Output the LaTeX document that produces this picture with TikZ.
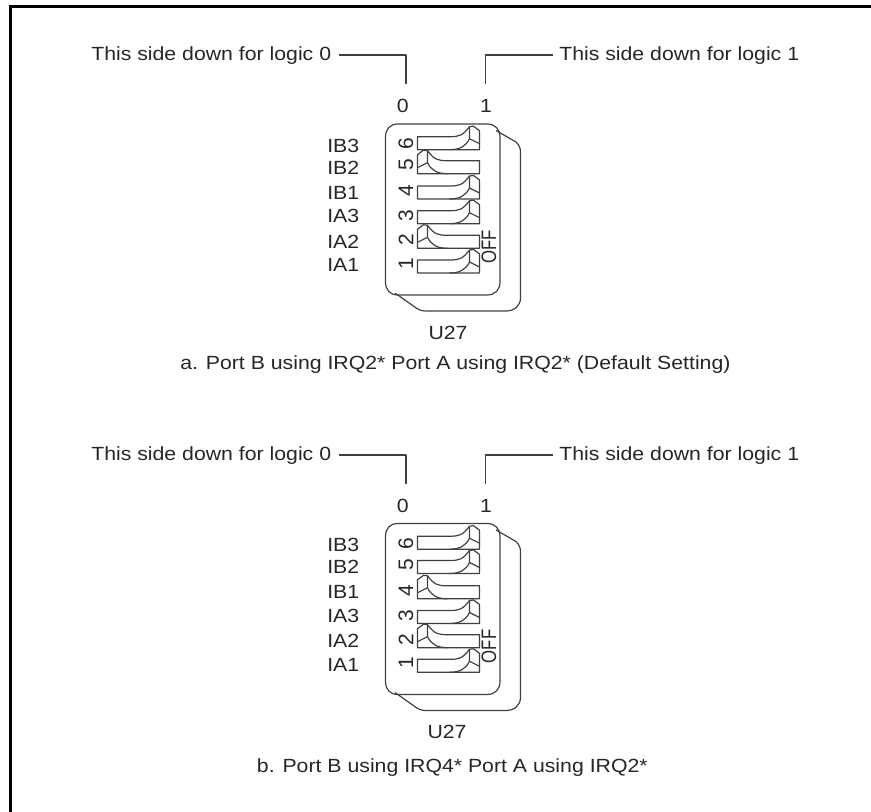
\documentclass[tikz,border=0pt]{standalone}
\usepackage{fontspec}
\setmainfont[FakeStretch=1.115]{Liberation Sans}
\newfontfamily\plainf{Liberation Sans}
\tikzset{
  x=0.75pt,y=-0.75pt,
  lbl/.style={inner sep=0pt,font=\fontsize{14.3}{17}\selectfont,text=black!85},
  rot/.style={inner sep=0pt,rotate=90,font=\plainf\fontsize{15.75}{18}\selectfont,text=black!85},
  ln/.style={draw=black!75,line width=0.9pt,line join=round},
  swup/.pic={
    \draw[ln] (0,0) -- (32,0) .. controls (42,0) and (45,-1) .. (52,-10) -- (56,-10.5) -- (62,-6) -- (62,13) -- (0,13) -- cycle;
    \draw[ln] (32,13) .. controls (42,13) and (48,10) .. (52,2) -- (52,-10);
    \draw[ln] (52,2) -- (62,7);
  },
  swdn/.pic={
    \draw[ln] (62,0) -- (30,0) .. controls (20,0) and (17,-1) .. (10,-10) -- (6,-10.5) -- (0,-6) -- (0,13) -- (62,13) -- cycle;
    \draw[ln] (30,13) .. controls (20,13) and (14,10) .. (10,2) -- (10,-10);
    \draw[ln] (10,2) -- (0,7);
  },
  panel/.pic={
    \draw[ln] (496,130.5) -- (516,142) .. controls (519,145) and (520.5,148) .. (520.5,152) -- (520.5,298) .. controls (520.5,306) and (514,311) .. (506,311) -- (426,311) .. controls (421,311) and (418,309.5) .. (414,306.5) -- (395,293);
    \draw[ln] (398,124) -- (487,124) .. controls (495,124) and (500,129) .. (500,137) -- (500,282) .. controls (500,290) and (495,295) .. (487,295) -- (398,295) .. controls (390,295) and (385.5,290) .. (385.5,282) -- (385.5,137) .. controls (385.5,129) and (390,124) .. (398,124) -- cycle;
    \foreach \yy/\dd in {144/6,165/5,191/4,216/3,240/2,263.3/1}
      \node[rot] at (406,\yy) {\dd};
    \node[rot,xscale=0.8] at (489,247) {OFF};
  }
}
\begin{document}
\begin{tikzpicture}
\useasboundingbox (0,0) rectangle (871,812);
\draw[line width=2pt] (10.3,812) -- (10.3,6.3) -- (871,6.3);
% top panel
\node[lbl,anchor=west] (a0) at (91,55.5) {This side down for logic 0};
\node[lbl,anchor=west] (a1) at (559,55.5) {This side down for logic 1};
\coordinate (a0s) at (339,55); \coordinate (a1s) at (552.7,55);
\coordinate (a0e) at (406,84.3); \coordinate (a1e) at (485.7,84.3);
\draw[ln] (a0s) -| (a0e);
\draw[ln] (a1s) -| (a1e);
\node[lbl] (a0n) at (402.7,105.7) {0};
\node[lbl] (a1n) at (486,105.7) {1};
\pic at (0,0) {panel};
\foreach \yy/\tt in {145.7/IB3,167.7/IB2,192.7/IB1,216/IA3,241.7/IA2,265/IA1}
  \node[lbl,anchor=west] at (327,\yy) {\tt};
\pic at (417.5,136.7) {swup};
\pic at (417.5,160.7) {swdn};
\pic at (417.5,186) {swup};
\pic at (417.5,210.7) {swup};
\pic at (417.5,235.3) {swdn};
\pic at (417.5,260) {swup};
\node[lbl] (au) at (448,333) {U27};
\node[lbl,anchor=west] (ac) at (180,365) {a. Port B using IRQ2* Port A using IRQ2* (Default Setting)};
% bottom panel
\node[lbl,anchor=west] (b0) at (91,455.5) {This side down for logic 0};
\node[lbl,anchor=west] (b1) at (559,455.5) {This side down for logic 1};
\coordinate (b0s) at (339,455); \coordinate (b1s) at (552.7,455);
\coordinate (b0e) at (406,484); \coordinate (b1e) at (485.7,484);
\draw[ln] (b0s) -| (b0e);
\draw[ln] (b1s) -| (b1e);
\node[lbl] (b0n) at (402.7,505.5) {0};
\node[lbl] (b1n) at (486,505.5) {1};
\pic at (0,399.5) {panel};
\foreach \yy/\tt in {545.2/IB3,567.2/IB2,592.2/IB1,615.5/IA3,641.2/IA2,664.5/IA1}
  \node[lbl,anchor=west] at (327,\yy) {\tt};
\pic at (417.5,536.2) {swup};
\pic at (417.5,560.5) {swup};
\pic at (417.5,585.8) {swdn};
\pic at (417.5,610.5) {swup};
\pic at (417.5,634.7) {swdn};
\pic at (417.5,659.3) {swup};
\node[lbl] (bu) at (447,732) {U27};
\node[lbl,anchor=west] (bc) at (256.7,767.5) {b. Port B using IRQ4* Port A using IRQ2*};
\end{tikzpicture}
\end{document}
